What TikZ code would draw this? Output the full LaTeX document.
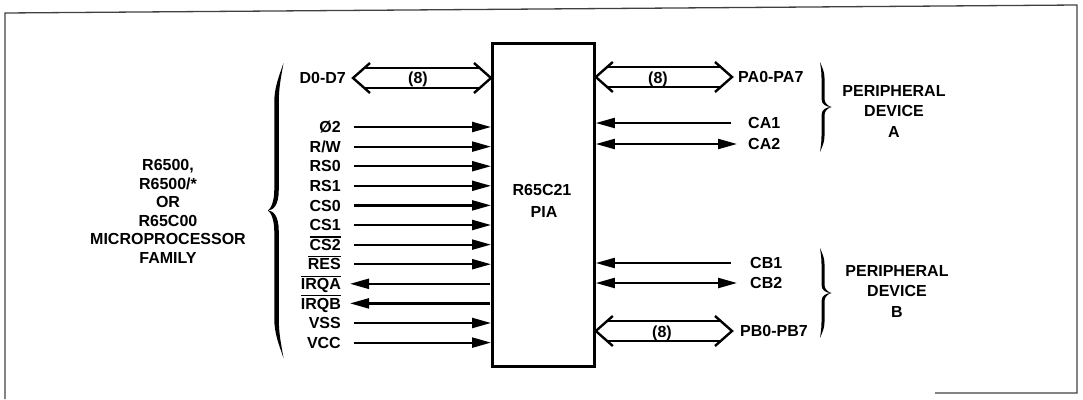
\documentclass[tikz,border=0pt]{standalone}
\usepackage{fontspec}
\setmainfont{Liberation Sans}
\usetikzlibrary{arrows.meta,calc}
\tikzset{
  >={Triangle[length=19pt,width=10pt]},
  sig/.style={line width=2.2pt},
  busline/.style={line width=2.4pt, line join=miter, line cap=butt},
  lbl/.style={inner sep=0pt, font=\fontsize{16}{18}\selectfont\bfseries, text height=11.4pt, text depth=0pt},
  blk/.style={inner sep=0pt, align=center, font=\fontsize{16}{#1}\selectfont\bfseries},
  frame/.style={line width=1.3pt, black!75},
  chip/.style={draw, line width=2.8pt, minimum width=102pt, minimum height=323pt, inner sep=0pt},
}
\newcommand{\ovl}[1]{\vbox{\hrule height 1.2pt\kern 1.5pt\hbox{#1}}}
\newcommand{\insig}[3]{%
  \node[lbl, anchor=east] (#1l) at (341,#3) {#2};
  \coordinate (#1s) at (354,#3);
  \draw[sig,->] (#1s) -- (#1s -| pia.west);
}
\newcommand{\outsig}[3]{%
  \node[lbl, anchor=east] (#1l) at (341,#3) {#2};
  \coordinate (#1s) at (350,#3);
  \draw[sig,<-] (#1s) -- ($(#1s -| pia.west)+(-1,0)$);
}
\newcommand{\busarrow}[2]{%
  \draw[busline] ($(#1)+(17,-15)$) -- (#1) -- ($(#1)+(17,15)$);
  \draw[busline] ($(#2)+(-17,-15)$) -- (#2) -- ($(#2)+(-17,15)$);
  \draw[busline] ($(#1)+(11,-10)$) -- ($(#2)+(-11,-10)$);
  \draw[busline] ($(#1)+(11,10)$) -- ($(#2)+(-11,10)$);
}
\newcommand{\fbrace}[7]{%
  \pgfmathsetmacro\brM{(#2+#3)/2}%
  \pgfmathsetmacro\brXa{#1-(#4)*#6/2}%
  \pgfmathsetmacro\brXb{#1+(#4)*#6/2}%
  \pgfmathsetmacro\brXe{#1-(#4)*#7}%
  \pgfmathsetmacro\brXt{#1+(#4)*8.5}%
  \pgfmathsetmacro\brH{#5}%
  \pgfmathsetmacro\brT{#5/2}%
  \fill (\brXe,#2)
    .. controls ({(\brXe+\brXa)/2},{#2+0.35*\brH}) and (\brXa,{#2+0.6*\brH}) .. (\brXa,{#2+\brH})
    -- (\brXa,{\brM-\brT})
    .. controls (\brXa,{\brM-0.3*\brT}) and ({(\brXa+\brXt)/2},\brM) .. (\brXt,\brM)
    .. controls ({(\brXa+\brXt)/2},\brM) and (\brXa,{\brM+0.3*\brT}) .. (\brXa,{\brM+\brT})
    -- (\brXa,{#3-\brH})
    .. controls (\brXa,{#3-0.6*\brH}) and ({(\brXe+\brXa)/2},{#3-0.35*\brH}) .. (\brXe,#3)
    .. controls ({(\brXe+\brXb)/2},{#3-0.35*\brH}) and (\brXb,{#3-0.6*\brH}) .. (\brXb,{#3-\brH})
    -- (\brXb,{\brM+\brT})
    .. controls (\brXb,{\brM+0.5*\brT}) and ({(\brXb+\brXt)/2},{\brM+0.1*\brT}) .. (\brXt,\brM)
    .. controls ({(\brXb+\brXt)/2},{\brM-0.1*\brT}) and (\brXb,{\brM-0.5*\brT}) .. (\brXb,{\brM-\brT})
    -- (\brXb,{#2+\brH})
    .. controls (\brXb,{#2+0.6*\brH}) and ({(\brXe+\brXb)/2},{#2+0.35*\brH}) .. cycle;
}
\begin{document}
\begin{tikzpicture}[x=1pt,y=-1pt]
\useasboundingbox (0,0) rectangle (1083,399);
% frame
\coordinate (fa) at (5,399);
\coordinate (fb) at (5,13);
\coordinate (fc) at (1077,5);
\coordinate (fd) at (1077,393);
\coordinate (fe) at (935,393);
\draw[frame] (fa) -- (fb) -- (fc) -- (fd) -- (fe);
% chip
\node[chip, anchor=north west] (pia) at (491,42) {};
\node[lbl] (piaA) at (542,190) {R65C21};
\node[lbl] (piaB) at (544,212) {PIA};
% left data bus
\coordinate (dbL) at (353,78);
\coordinate (dbR) at (dbL -| pia.west);
\busarrow{dbL}{dbR}
\node[lbl, anchor=east] (dbl) at (346,78) {D0-D7};
\node[lbl] (db8) at (418,78) {(8)};
% left signals
\insig{phi}{Ø2}{127}
\insig{rw}{R/W}{146.6}
\insig{rsz}{RS0}{166.2}
\insig{rso}{RS1}{185.8}
\insig{csz}{CS0}{205.4}
\insig{cso}{CS1}{225}
\insig{cst}{\ovl{CS2}}{244.6}
\insig{res}{\ovl{RES}}{264.2}
\outsig{irqa}{\ovl{IRQA}}{283.8}
\outsig{irqb}{\ovl{IRQB}}{303.4}
\insig{vss}{VSS}{323}
\insig{vcc}{VCC}{342.6}
% left brace and text
\fbrace{276.5}{63}{358}{-1}{40}{4.5}{7}
\node[blk=18.6] (mpu) at (168,211.5) {R6500,\\R6500/*\\OR\\R65C00\\MICROPROCESSOR\\FAMILY};
% port A
\coordinate (paR) at (732,77);
\coordinate (paL) at (paR -| pia.east);
\busarrow{paL}{paR}
\node[lbl, anchor=west] (pal) at (738,77) {PA0-PA7};
\node[lbl] (pa8) at (658,78) {(8)};
\coordinate (ca1s) at (731,123);
\draw[sig,->] (ca1s) -- (ca1s -| pia.east);
\node[lbl, anchor=west] (ca1l) at (748,123) {CA1};
\coordinate (ca2s) at (737,144);
\draw[sig,<->] (ca2s -| pia.east) -- (ca2s);
\node[lbl, anchor=west] (ca2l) at (748,144) {CA2};
\fbrace{823}{62}{152}{1}{16}{3}{3}
\node[blk=20.5] (pdA) at (894,111) {PERIPHERAL\\DEVICE\\A};
% port B
\coordinate (cb1s) at (731,263);
\draw[sig,->] (cb1s) -- (cb1s -| pia.east);
\node[lbl, anchor=west] (cb1l) at (750,263) {CB1};
\coordinate (cb2s) at (737,283);
\draw[sig,<->] (cb2s -| pia.east) -- (cb2s);
\node[lbl, anchor=west] (cb2l) at (750,283) {CB2};
\coordinate (pbR) at (732,331);
\coordinate (pbL) at (pbR -| pia.east);
\busarrow{pbL}{pbR}
\node[lbl, anchor=west] (pbl) at (740,331) {PB0-PB7};
\node[lbl] (pb8) at (662,332) {(8)};
\fbrace{823}{248}{338}{1}{16}{3}{3}
\node[blk=20.5] (pdB) at (897,291) {PERIPHERAL\\DEVICE\\B};
\end{tikzpicture}
\end{document}
